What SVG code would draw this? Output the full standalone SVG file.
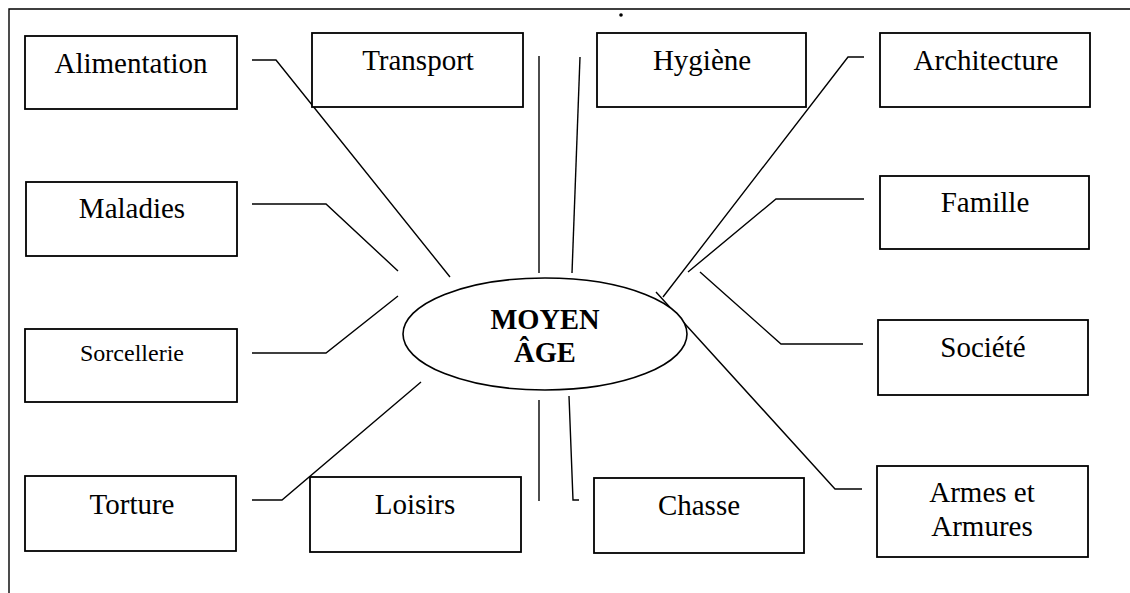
<svg xmlns="http://www.w3.org/2000/svg" width="1130" height="593" viewBox="0 0 1130 593">
<style>
.box{fill:#fff;stroke:#000;stroke-width:1.8}
.lbl{font-family:"Liberation Serif","Times New Roman",serif;font-size:29px;fill:#000;text-anchor:middle}
.sm{font-size:24px}
.bold{font-weight:bold;font-size:28.5px}
.con{fill:none;stroke:#000;stroke-width:1.4}
</style>
<rect width="1130" height="593" fill="#fff"/>
<g id="frame"><path class="con" d="M9 593 V9 H1130" stroke-width="1.6"/></g>
<circle cx="621" cy="15" r="1.8" fill="#000"/>
<g id="connectors">
<path class="con" d="M252 60 H276 L450 277"/>
<path class="con" d="M252 204 H326 L398 271"/>
<path class="con" d="M252 353 H326 L398 296"/>
<path class="con" d="M252 500 H282 L421 382"/>
<path class="con" d="M539 56 V273"/>
<path class="con" d="M580 57 L572 273"/>
<path class="con" d="M539 400 V501"/>
<path class="con" d="M569 396 L573 500 H579"/>
<path class="con" d="M864 57 H848 L663 297"/>
<path class="con" d="M864 199 H776 L688 272"/>
<path class="con" d="M700 272 L781 344 H863"/>
<path class="con" d="M656 292 L835 489 H862"/>
</g>
<g id="center"><ellipse cx="545" cy="334" rx="142" ry="56" fill="#fff" stroke="#000" stroke-width="1.6"/>
<text class="lbl bold" x="545" y="329">MOYEN</text><text class="lbl bold" x="545" y="362">ÂGE</text></g>
<g id="alimentation"><rect class="box" x="25" y="36" width="212" height="73"/><text class="lbl" x="131" y="73">Alimentation</text></g>
<g id="transport"><rect class="box" x="312" y="33" width="211" height="74"/><text class="lbl" x="418" y="70">Transport</text></g>
<g id="hygiene"><rect class="box" x="597" y="33" width="209" height="74"/><text class="lbl" x="702" y="70">Hygiène</text></g>
<g id="architecture"><rect class="box" x="880" y="33" width="210" height="74"/><text class="lbl" x="986" y="70">Architecture</text></g>
<g id="maladies"><rect class="box" x="26" y="182" width="211" height="74"/><text class="lbl" x="132" y="218">Maladies</text></g>
<g id="famille"><rect class="box" x="880" y="176" width="209" height="73"/><text class="lbl" x="985" y="212">Famille</text></g>
<g id="sorcellerie"><rect class="box" x="25" y="329" width="212" height="73"/><text class="lbl sm" x="132" y="361">Sorcellerie</text></g>
<g id="societe"><rect class="box" x="878" y="320" width="210" height="75"/><text class="lbl" x="983" y="357">Société</text></g>
<g id="torture"><rect class="box" x="25" y="476" width="211" height="75"/><text class="lbl" x="132" y="514">Torture</text></g>
<g id="loisirs"><rect class="box" x="310" y="477" width="211" height="75"/><text class="lbl" x="415" y="514">Loisirs</text></g>
<g id="chasse"><rect class="box" x="594" y="478" width="210" height="75"/><text class="lbl" x="699" y="515">Chasse</text></g>
<g id="armes"><rect class="box" x="877" y="466" width="211" height="91"/><text class="lbl" x="982" y="502">Armes et</text><text class="lbl" x="982" y="536">Armures</text></g>
</svg>
